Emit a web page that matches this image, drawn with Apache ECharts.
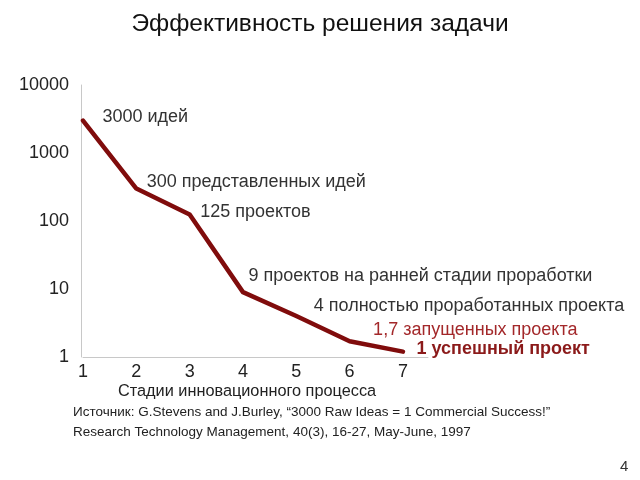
<!DOCTYPE html>
<html><head><meta charset="utf-8">
<script src="https://cdn.jsdelivr.net/npm/echarts@6/dist/echarts.min.js"></script>
<style>html,body{margin:0;padding:0;background:#fff}#c{width:640px;height:480px}</style>
</head><body><div id="c"></div>
<script>
const stages = [1, 2, 3, 4, 5, 6, 7];
const values = [3000, 300, 125, 9, 4, 1.7, 1.2];
const pointLabels = [
  '3000 идей',
  '300 представленных идей',
  '125 проектов',
  '9 проектов на ранней стадии проработки',
  '4 полностью проработанных проекта',
  '1,7 запущенных проекта',
  '1 успешный проект'
];
const yTicks = [1, 10, 100, 1000, 10000];
const labelOffsets = [[19,-4],[10,-7],[10,-2],[5,-16],[17,-10],[23,-11],[13,-3]];
const FONT = '"Liberation Sans", Arial, sans-serif';
const RED = '#800c0c';

const data = stages.map((s, i) => {
  const item = {
    value: [s, values[i]],
    label: {
      show: true, position: 'right', distance: 0, offset: labelOffsets[i],
      formatter: pointLabels[i], fontFamily: FONT, fontSize: 18, color: '#333'
    }
  };
  if (i === 5) { item.label.color = '#a3282a'; }
  if (i === 6) { item.label.color = '#8b1a1a'; item.label.fontWeight = 'bold'; }
  return item;
});

const chart = echarts.init(document.getElementById('c'), null, {renderer: 'canvas'});
chart.setOption({
  animation: false,
  backgroundColor: '#fff',
  grid: {left: 83, right: 212, top: 85, bottom: 123, containLabel: false},
  xAxis: {
    type: 'value', min: 1, max: 7.47, interval: 1,
    axisLine: {show: true, lineStyle: {color: '#c8c8c8', width: 1}},
    axisTick: {show: false}, splitLine: {show: false},
    axisLabel: {
      margin: 6, fontFamily: FONT, fontSize: 18, color: '#222',
      showMaxLabel: false,
      formatter: v => (Number.isInteger(v) && stages.includes(v)) ? String(v) : ''
    }
  },
  yAxis: {
    type: 'log', logBase: 10, min: yTicks[0], max: yTicks[yTicks.length - 1],
    offset: 2,
    axisLine: {show: true, lineStyle: {color: '#c8c8c8', width: 1}},
    axisTick: {show: false}, splitLine: {show: false},
    axisLabel: {margin: 12, fontFamily: FONT, fontSize: 18, color: '#222', formatter: v => String(v)}
  },
  series: [{
    type: 'line', data: data,
    symbol: 'circle', symbolSize: 1,
    itemStyle: {color: RED},
    lineStyle: {color: RED, width: 4.5, join: 'round', cap: 'round'}
  }],
  graphic: [
    {type: 'text', left: 'center', top: 12, style: {text: 'Эффективность решения задачи', font: '24.5px ' + FONT, fill: '#111'}},
    {type: 'text', x: 118, y: 384, style: {text: 'Стадии инновационного процесса', font: '16.3px ' + FONT, fill: '#222'}},
    {type: 'text', x: 73, y: 405, style: {text: 'Источник: G.Stevens and J.Burley, “3000 Raw Ideas = 1 Commercial Success!”', font: '13.5px ' + FONT, fill: '#222'}},
    {type: 'text', x: 73, y: 425, style: {text: 'Research Technology Management, 40(3), 16-27, May-June, 1997', font: '13.5px ' + FONT, fill: '#222'}},
    {type: 'text', x: 620, y: 459, style: {text: '4', font: '15px ' + FONT, fill: '#333'}}
  ]
});
</script></body></html>
